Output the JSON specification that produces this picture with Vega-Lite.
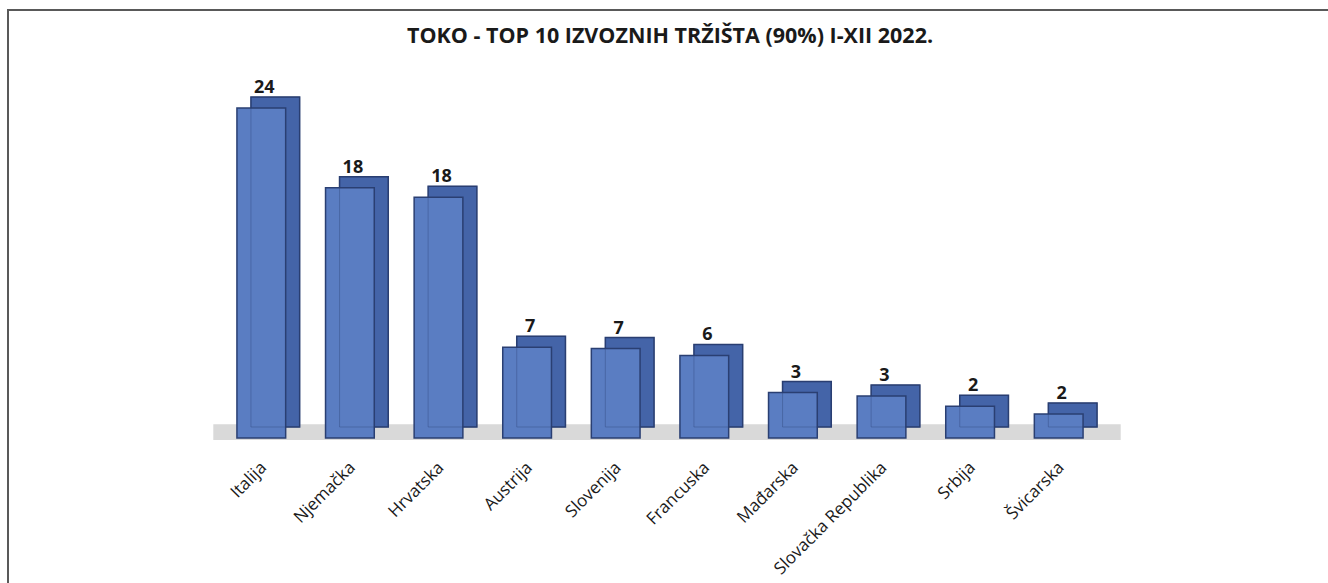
{
  "$schema": "https://vega.github.io/schema/vega-lite/v6.json",
  "width": 1332,
  "height": 600,
  "autosize": {"type": "none"},
  "padding": {"left": 8, "top": 10, "right": -12, "bottom": -27},
  "background": "white",
  "title": {
    "text": "TOKO - TOP 10 IZVOZNIH TRŽIŠTA (90%) I-XII  2022.",
    "font": "Open Sans",
    "fontSize": 21.5,
    "fontWeight": "bold",
    "color": "#1a1a1a",
    "anchor": "middle",
    "offset": -37,
    "dx": -4
  },
  "config": {
    "view": {"stroke": "#595959", "strokeWidth": 2},
    "axis": {"grid": false}
  },
  "data": {
    "values": [
      {"zemlja": "Italija", "vrijednost": 24.0},
      {"zemlja": "Njemačka", "vrijednost": 18.2},
      {"zemlja": "Hrvatska", "vrijednost": 17.5},
      {"zemlja": "Austrija", "vrijednost": 6.6},
      {"zemlja": "Slovenija", "vrijednost": 6.5},
      {"zemlja": "Francuska", "vrijednost": 6.0},
      {"zemlja": "Mađarska", "vrijednost": 3.3},
      {"zemlja": "Slovačka Republika", "vrijednost": 3.05},
      {"zemlja": "Srbija", "vrijednost": 2.3},
      {"zemlja": "Švicarska", "vrijednost": 1.75}
    ]
  },
  "layer": [
    {
      "data": {"values": [{"floor": "pod"}]},
      "mark": {"type": "rect", "color": "#d9d9d9", "xOffset": -48, "x2Offset": 62},
      "encoding": {
        "x": {"datum": "Italija", "type": "nominal"},
        "x2": {"datum": "Švicarska"},
        "y": {"datum": 1.0, "type": "quantitative"},
        "y2": {"datum": -0.15}
      }
    },
    {
      "mark": {"type": "bar", "color": "#4464A8", "stroke": "#2A3F72", "strokeWidth": 1.5, "xOffset": 14, "x2Offset": 14, "yOffset": -11, "y2Offset": -11},
      "encoding": {
        "x": {"field": "zemlja", "type": "nominal"},
        "y": {"field": "vrijednost", "type": "quantitative"},
        "y2": {"datum": 0}
      }
    },
    {
      "mark": {"type": "bar", "color": "#5A7DC2", "stroke": "#2A3F72", "strokeWidth": 1.5},
      "encoding": {
        "x": {"field": "zemlja", "type": "nominal"},
        "y": {"field": "vrijednost", "type": "quantitative"},
        "y2": {"datum": 0}
      }
    },
    {
      "mark": {"type": "bar", "fillOpacity": 0, "stroke": "#2A3F72", "strokeOpacity": 0.35, "strokeWidth": 1, "xOffset": 14, "x2Offset": 14, "yOffset": -11, "y2Offset": -11},
      "encoding": {
        "x": {"field": "zemlja", "type": "nominal"},
        "y": {"field": "vrijednost", "type": "quantitative"},
        "y2": {"datum": 0}
      }
    },
    {
      "mark": {"type": "text", "font": "Open Sans", "fontSize": 18, "fontWeight": "bold", "color": "#1a1a1a", "baseline": "alphabetic", "dy": -15, "dx": 3},
      "encoding": {
        "x": {"field": "zemlja", "type": "nominal"},
        "y": {"field": "vrijednost", "type": "quantitative"},
        "text": {"field": "vrijednost", "type": "quantitative", "format": ".0f"}
      }
    }
  ],
  "resolve": {"scale": {"x": "shared", "y": "shared"}},
  "encoding": {
    "x": {
      "scale": {
        "domain": ["Italija", "Njemačka", "Hrvatska", "Austrija", "Slovenija", "Francuska", "Mađarska", "Slovačka Republika", "Srbija", "Švicarska"],
        "range": [209, 1095],
        "paddingInner": 0.45,
        "paddingOuter": 0.225
      },
      "axis": {
        "title": null,
        "labelAngle": -45,
        "labelFont": "Open Sans",
        "labelFontSize": 17,
        "labelColor": "#1a1a1a",
        "ticks": false,
        "domain": false,
        "labelPadding": 21,
        "labelOffset": -3,
        "offset": -172
      }
    },
    "y": {
      "scale": {"domain": [-12.509, 31.127], "nice": false, "zero": false},
      "axis": null
    }
  }
}
